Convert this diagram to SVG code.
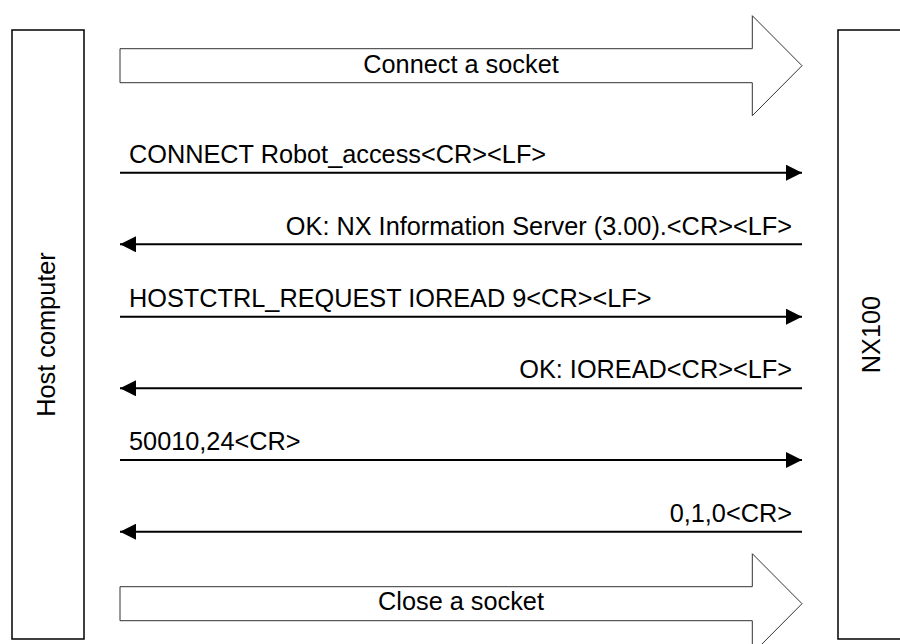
<svg xmlns="http://www.w3.org/2000/svg" width="900" height="644" viewBox="0 0 900 644">
<defs>
<style>
text{font-family:"Liberation Sans",Arial,sans-serif;font-size:25.3px;fill:#000}
.box{fill:#fff;stroke:#000;stroke-width:1.5}
.big{fill:#fff;stroke:#333;stroke-width:1}
.msg{stroke:#000;stroke-width:2;fill:none}
</style>
<marker id="ah" viewBox="0 0 16 16" refX="16" refY="8" markerWidth="16" markerHeight="16" markerUnits="userSpaceOnUse" orient="auto">
<path d="M0,0 L16,8 L0,16 Z" fill="#000"/>
</marker>
</defs>
<rect width="900" height="644" fill="#fff"/>
<g id="host">
<rect class="box" x="12" y="30" width="72" height="609"/>
<text transform="translate(55,334.5) rotate(-90)" text-anchor="middle">Host computer</text>
</g>
<g id="nx100">
<rect class="box" x="838" y="30" width="80" height="609"/>
<text transform="translate(880,334.5) rotate(-90)" text-anchor="middle">NX100</text>
</g>
<g id="connect-socket">
<path class="big" d="M120,48.7 H752.3 V15.7 L802,65.7 L752.3,115.7 V82.7 H120 Z"/>
<text x="461" y="72.7" text-anchor="middle">Connect a socket</text>
</g>
<g id="close-socket">
<path class="big" d="M120,586.7 H752.3 V553.7 L802,603.7 L752.3,653.7 V620.7 H120 Z"/>
<text x="461" y="610" text-anchor="middle">Close a socket</text>
</g>
<g id="connectors">
<line class="msg" x1="120" y1="172.7" x2="802" y2="172.7" marker-end="url(#ah)"/>
<line class="msg" x1="802" y1="244.3" x2="120" y2="244.3" marker-end="url(#ah)"/>
<line class="msg" x1="120" y1="316.7" x2="802" y2="316.7" marker-end="url(#ah)"/>
<line class="msg" x1="802" y1="388.3" x2="120" y2="388.3" marker-end="url(#ah)"/>
<line class="msg" x1="120" y1="460" x2="802" y2="460" marker-end="url(#ah)"/>
<line class="msg" x1="802" y1="531.7" x2="120" y2="531.7" marker-end="url(#ah)"/>
<text x="129" y="162.7">CONNECT Robot_access&lt;CR&gt;&lt;LF&gt;</text>
<text x="792" y="234.5" text-anchor="end">OK: NX Information Server (3.00).&lt;CR&gt;&lt;LF&gt;</text>
<text x="129" y="306.7">HOSTCTRL_REQUEST IOREAD 9&lt;CR&gt;&lt;LF&gt;</text>
<text x="792" y="378.3" text-anchor="end">OK: IOREAD&lt;CR&gt;&lt;LF&gt;</text>
<text x="129" y="450">50010,24&lt;CR&gt;</text>
<text x="792" y="521.7" text-anchor="end">0,1,0&lt;CR&gt;</text>
</g>
</svg>
